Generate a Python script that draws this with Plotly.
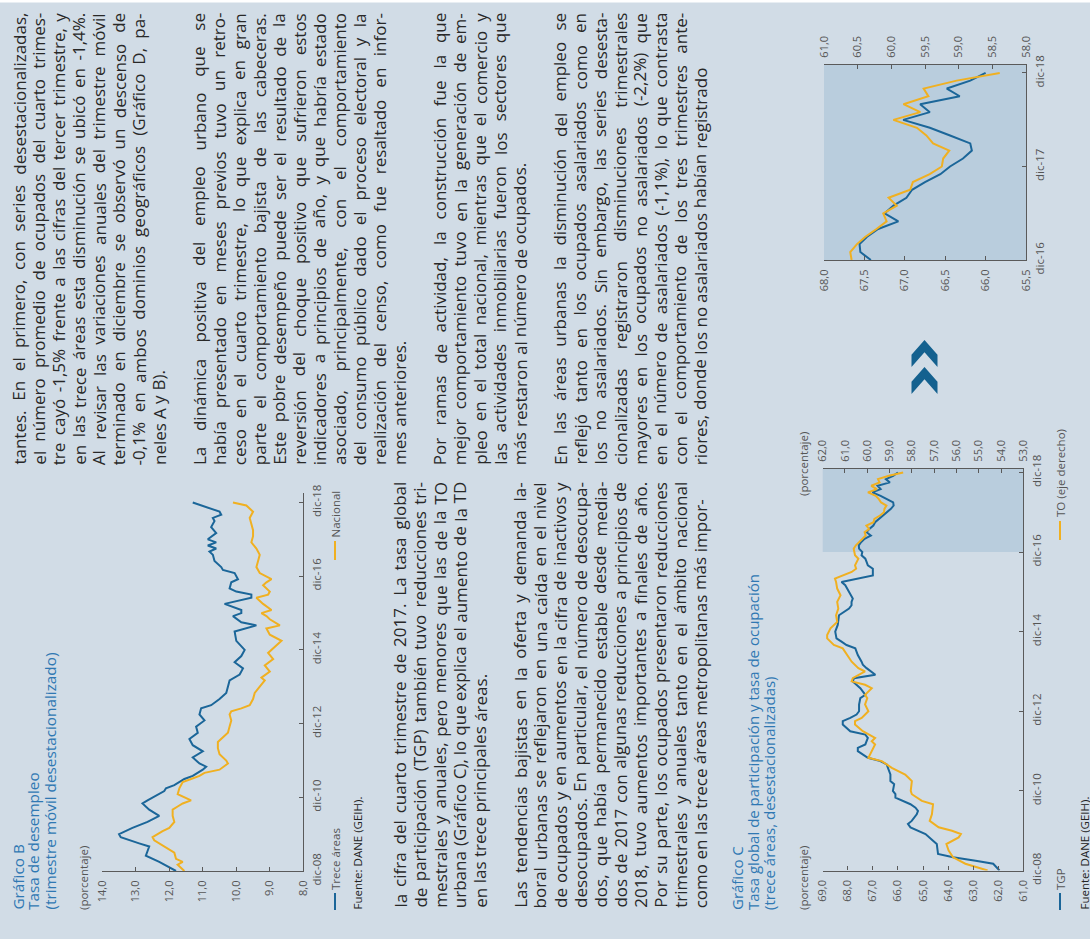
import unicodedata
import pandas as pd
import plotly.graph_objects as go

W, H = 1090, 939
BG = "#d1dce6"
SHADE = "#b9cddd"
AZUL = "#1b6699"
AMARILLO = "#f0b021"
TITULO = "#2f78b3"
TEXTO = "#282828"
GRIS = "#555555"
EJE = "#5a5a5a"
FUENTE = "Open Sans"

# ---------------- datos ----------------
# Gráfico B: meses contados desde dic-08
b_mes_trece = [0, 3, 5, 8, 9, 11, 12, 14, 16, 18, 20, 22, 23, 25, 26, 27, 28, 30, 31, 33,
               34, 35, 37, 39, 41, 43, 45, 47, 49, 51, 53, 54, 56, 58, 60, 62, 64, 66, 68, 70,
               72, 75, 78, 80, 81, 83, 84, 85, 87, 89, 90, 91, 92, 94, 95, 97, 98, 99, 101, 103,
               104, 105, 106, 107, 108, 110, 112, 114, 115, 116, 117, 118, 119, 120]
b_trece = [11.8, 12.3, 12.7, 12.6, 12.9, 13.45, 13.5, 13.1, 12.65, 12.3, 12.6, 12.8, 12.65, 12.3, 12.15, 12.1, 11.85, 11.55, 11.3, 11.0,
           10.9, 11.1, 11.3, 11.0, 11.3, 11.4, 11.15, 11.2, 10.95, 11.1, 11.05, 10.75, 10.5, 10.3, 10.25, 10.2, 9.9, 9.8, 10.05, 9.85,
           9.75, 10.0, 10.05, 9.4, 9.85, 10.1, 9.85, 9.85, 10.35, 9.55, 9.55, 10.0, 10.2, 10.15, 9.95, 10.05, 10.4, 10.45, 10.65, 10.7,
           10.8, 10.6, 10.85, 10.6, 10.85, 10.6, 10.75, 10.65, 10.7, 10.45, 10.5, 10.75, 11.0, 11.3]
b_mes_nac = [0, 2, 3, 4, 6, 8, 10, 11, 13, 14, 16, 18, 20, 21, 22, 23, 25, 27, 29, 30,
             31, 32, 33, 35, 36, 38, 40, 42, 43, 45, 47, 49, 51, 52, 53, 54, 56, 58, 60, 62,
             63, 65, 67, 69, 71, 73, 75, 77, 79, 80, 82, 83, 84, 85, 87, 89, 90, 91, 93, 94,
             95, 97, 99, 101, 103, 105, 107, 109, 111, 113, 115, 117, 119, 120]
b_nacional = [11.55, 11.75, 11.6, 11.8, 11.85, 12.15, 12.45, 12.5, 12.2, 12.0, 11.85, 11.9, 11.9, 11.75, 11.6, 11.35, 11.75, 11.7, 11.6, 11.35,
              11.1, 10.95, 10.5, 10.25, 10.3, 10.5, 10.55, 10.55, 10.45, 10.25, 10.2, 10.15, 10.2, 10.15, 9.85, 9.6, 9.5, 9.45, 9.3, 9.15,
              9.25, 9.0, 9.15, 8.9, 9.05, 8.85, 8.65, 9.0, 9.1, 8.7, 9.0, 9.1, 9.25, 8.95, 9.2, 9.4, 9.05, 9.0, 9.2, 9.1,
              8.95, 9.3, 9.4, 9.35, 9.3, 9.4, 9.55, 9.5, 9.5, 9.55, 9.6, 9.5, 9.7, 10.1]
b_ticks = ["dic-08", "dic-10", "dic-12", "dic-14", "dic-16", "dic-18"]

# Gráfico C: TGP y TO (trece áreas), meses desde dic-08 hasta nov-16
c_mes_tgp = [0, 2, 3, 4, 5, 8, 9, 11, 13, 14, 15, 17, 18, 19, 20, 21, 22, 23, 24, 26,
             27, 29, 31, 32, 33, 34, 36, 37, 38, 40, 41, 42, 44, 45, 46, 47, 48, 50, 52, 53,
             55, 57, 58, 59, 61, 62, 63, 65, 67, 68, 69, 70, 72, 74, 77, 79, 80, 81, 82, 84,
             85, 86, 87, 89, 91, 92, 93, 94, 95]
c_tgp = [61.95, 62.2, 62.9, 63.8, 64.4, 64.45, 64.6, 64.9, 65.5, 65.6, 65.45, 65.25, 65.2, 65.3, 65.5, 65.8, 66.1, 66.1, 66.2, 66.15,
         66.3, 66.3, 66.4, 66.45, 66.7, 67.2, 67.6, 67.6, 67.3, 67.2, 67.3, 67.9, 68.2, 68.2, 67.9, 67.65, 67.55, 67.55, 67.5, 67.3,
         67.5, 67.8, 67.75, 66.9, 67.25, 67.4, 67.45, 67.6, 67.7, 68.05, 68.25, 68.45, 68.5, 68.4, 68.35, 67.95, 67.85, 67.85, 67.8, 67.95,
         68.0, 68.1, 68.25, 67.0, 67.0, 67.2, 67.25, 67.3, 67.45]
c_mes_to = [0, 2, 4, 6, 8, 10, 11, 12, 13, 15, 17, 20, 21, 23, 24, 27, 28, 29, 31, 33,
            34, 36, 38, 39, 40, 42, 44, 45, 46, 48, 50, 52, 53, 55, 56, 57, 58, 60, 61, 63,
            65, 67, 68, 70, 71, 73, 75, 77, 79, 81, 83, 85, 87, 88, 90, 91, 92, 94, 95]
c_to = [54.6, 55.6, 56.15, 56.35, 56.45, 55.9, 55.8, 56.2, 56.8, 57.2, 57.1, 57.05, 57.55, 58.0, 58.05, 58.0, 58.15, 58.3, 58.9, 59.35,
        59.95, 59.8, 59.65, 59.8, 59.65, 60.2, 60.55, 60.55, 60.25, 59.95, 60.1, 60.0, 60.1, 59.8, 60.1, 60.7, 60.65, 60.1, 60.4, 60.7,
        60.9, 61.1, 61.5, 61.8, 61.8, 61.65, 61.35, 61.4, 61.3, 61.35, 61.2, 61.35, 61.4, 61.45, 60.7, 60.5, 60.55, 60.4, 60.55]
c_ticks = ["dic-08", "dic-10", "dic-12", "dic-14", "dic-16", "dic-18"]

# Gráfico D (detalle mensual dic-16 a dic-18)
d_tgp = [67.42, 67.55, 67.56, 67.47, 67.33, 67.08, 67.25, 67.14, 66.98, 66.91, 66.75, 66.56, 66.44,
         66.28, 66.17, 66.19, 66.44, 66.69, 67.02, 66.69, 66.81, 66.32, 66.48, 66.19, 66.0]
d_to = [60.59, 60.61, 60.51, 60.39, 60.22, 60.07, 60.12, 59.92, 60.04, 59.72, 59.68, 59.43, 59.25,
        59.23, 59.14, 59.38, 59.48, 59.62, 59.97, 59.57, 59.82, 59.45, 59.52, 59.03, 58.39]
d_ticks = ["dic-16", "dic-17", "dic-18"]

# ---------------- texto ----------------
col_der = [
    ["tantes. En el primero, con series desestacionalizadas,",
     "el número promedio de ocupados del cuarto trimes-",
     "tre cayó -1,5% frente a las cifras del tercer trimestre, y",
     "en las trece áreas esta disminución se ubicó en -1,4%.",
     "Al revisar las variaciones anuales del trimestre móvil",
     "terminado en diciembre se observó un descenso de",
     "-0,1% en ambos dominios geográficos (Gráfico D, pa-",
     "neles A y B)."],
    ["La dinámica positiva del empleo urbano que se",
     "había presentado en meses previos tuvo un retro-",
     "ceso en el cuarto trimestre, lo que explica en gran",
     "parte el comportamiento bajista de las cabeceras.",
     "Este pobre desempeño puede ser el resultado de la",
     "reversión del choque positivo que sufrieron estos",
     "indicadores a principios de año, y que habría estado",
     "asociado, principalmente, con el comportamiento",
     "del consumo público dado el proceso electoral y la",
     "realización del censo, como fue resaltado en infor-",
     "mes anteriores."],
    ["Por ramas de actividad, la construcción fue la que",
     "mejor comportamiento tuvo en la generación de em-",
     "pleo en el total nacional, mientras que el comercio y",
     "las actividades inmobiliarias fueron los sectores que",
     "más restaron al número de ocupados."],
    ["En las áreas urbanas la disminución del empleo se",
     "reflejó tanto en los ocupados asalariados como en",
     "los no asalariados. Sin embargo, las series desesta-",
     "cionalizadas registraron disminuciones trimestrales",
     "mayores en los ocupados no asalariados (-2,2%) que",
     "en el número de asalariados (-1,1%), lo que contrasta",
     "con el comportamiento de los tres trimestres ante-",
     "riores, donde los no asalariados habían registrado"],
]
col_izq = [
    ["la cifra del cuarto trimestre de 2017. La tasa global",
     "de participación (TGP) también tuvo reducciones tri-",
     "mestrales y anuales, pero menores que las de la TO",
     "urbana (Gráfico C), lo que explica el aumento de la TD",
     "en las trece principales áreas."],
    ["Las tendencias bajistas en la oferta y demanda la-",
     "boral urbanas se reflejaron en una caída en el nivel",
     "de ocupados y en aumentos en la cifra de inactivos y",
     "desocupados. En particular, el número de desocupa-",
     "dos, que había permanecido estable desde media-",
     "dos de 2017 con algunas reducciones a principios de",
     "2018, tuvo aumentos importantes a finales de año.",
     "Por su parte, los ocupados presentaron reducciones",
     "trimestrales y anuales tanto en el ámbito nacional",
     "como en las trece áreas metropolitanas más impor-"],
]

# anchos aproximados de Open Sans (unidades de 2048)
ANCHO = {" ": 532, "a": 1139, "b": 1255, "c": 975, "d": 1255, "e": 1149, "f": 694, "g": 1122,
         "h": 1257, "i": 518, "j": 518, "k": 1075, "l": 518, "m": 1905, "n": 1257, "o": 1237,
         "p": 1255, "q": 1255, "r": 836, "s": 977, "t": 723, "u": 1257, "v": 1026, "w": 1593,
         "x": 1073, "y": 1028, "z": 977, "A": 1296, "B": 1327, "C": 1292, "D": 1493, "E": 1139,
         "F": 1057, "G": 1491, "H": 1511, "I": 571, "L": 1063, "M": 1849, "N": 1544, "O": 1595,
         "P": 1233, "R": 1266, "S": 1124, "T": 1126, "V": 1225, ",": 502, ".": 545, "-": 659,
         "(": 606, ")": 606, "%": 1706, ":": 545}
for d in "0123456789":
    ANCHO[d] = 1171


def ancho_texto(s, size):
    total = 0
    for ch in s:
        base = unicodedata.normalize("NFD", ch)[0]
        total += ANCHO.get(base, 1150)
    return total / 2048 * size


def fechas(meses, inicio="2008-12-01"):
    t0 = pd.Timestamp(inicio)
    return [t0 + pd.DateOffset(months=m) for m in meses]


anotaciones = []
formas = []


def vertical(x, y, texto, size, color, yanchor="bottom"):
    anotaciones.append(dict(x=x / W, y=1 - y / H, xref="paper", yref="paper", text=texto,
                            textangle=-90, showarrow=False, xanchor="center", yanchor=yanchor,
                            font=dict(family=FUENTE, size=size, color=color),
                            borderpad=0, borderwidth=0))


X0, PASO = 18.6, 20.05
CUERPO = 17


def columna(parrafos, k0, y0, y1, size=CUERPO):
    k = k0
    espacio = ancho_texto(" ", size)
    for lineas in parrafos:
        for i, linea in enumerate(lineas):
            x = X0 + PASO * k
            palabras = linea.split(" ")
            anchos = [ancho_texto(p, size) for p in palabras]
            ultima = i == len(lineas) - 1
            if not ultima and len(palabras) > 1:
                hueco = max((y0 - y1 - sum(anchos)) / (len(palabras) - 1), 0.6 * espacio)
            else:
                hueco = espacio
            y = y0
            for p, a in zip(palabras, anchos):
                vertical(x, y, p, size, TEXTO)
                y -= a + hueco
            k += 1
        k += 1


columna(col_der, 0, 465, 13)
columna(col_izq, 19, 908, 482)

# títulos, fuentes y leyendas
vertical(17, 910, "Gráfico B", 15.3, TITULO)
vertical(33, 910, "Tasa de desempleo", 15.3, TITULO)
vertical(49, 910, "(trimestre móvil desestacionalizado)", 15.3, TITULO)
vertical(83, 910, "(porcentaje)", 11.5, GRIS)
vertical(335, 890, "Trece áreas", 11.5, GRIS)
vertical(335, 538, "Nacional", 11.5, GRIS)
vertical(357, 910, "Fuente: DANE (GEIH).", 11.5, "#222222")

vertical(737, 910, "Gráfico C", 15, TITULO)
vertical(753, 910, "Tasa global de participación y tasa de ocupación", 15, TITULO)
vertical(769, 910, "(trece áreas, desestacionalizadas)", 15, TITULO)
vertical(803, 910, "(porcentaje)", 11.5, GRIS)
vertical(803, 432, "(porcentaje)", 11.5, GRIS, yanchor="top")
vertical(1060, 890, "TGP", 11.5, GRIS)
vertical(1060, 517, "TO (eje derecho)", 11.5, GRIS)
vertical(1084, 910, "Fuente: DANE (GEIH).", 11.5, "#222222")


def linea_px(x0, y0, x1, y1, color, width=2):
    formas.append(dict(type="line", xref="paper", yref="paper", x0=x0 / W, y0=1 - y0 / H,
                       x1=x1 / W, y1=1 - y1 / H, line=dict(color=color, width=width)))


linea_px(335, 910, 335, 893, AZUL)
linea_px(335, 560, 335, 541, AMARILLO)
linea_px(1060, 910, 1060, 893, AZUL)
linea_px(1060, 540, 1060, 521, AMARILLO)

# franja blanca superior
formas.append(dict(type="rect", xref="paper", yref="paper", x0=0, x1=1, y0=1 - 2.5 / H, y1=1,
                   fillcolor="white", line=dict(width=0)))


def chevron(cx, top, w, h):
    pts = [(cx, top), (cx + w / 2, top + h * 0.55), (cx + w / 2, top + h),
           (cx, top + h * 0.45), (cx - w / 2, top + h), (cx - w / 2, top + h * 0.55)]
    return "M " + " L ".join(f"{x / W:.5f},{1 - y / H:.5f}" for x, y in pts) + " Z"


for top in (340, 367):
    formas.append(dict(type="path", xref="paper", yref="paper", path=chevron(924.5, top, 26, 27),
                       fillcolor="#14618f", line=dict(width=0)))

# ---------------- figura ----------------
fig = go.Figure()

fig.add_trace(go.Scatter(x=b_trece, y=fechas(b_mes_trece), mode="lines",
                         line=dict(color=AZUL, width=2), xaxis="x", yaxis="y"))
fig.add_trace(go.Scatter(x=b_nacional, y=fechas(b_mes_nac), mode="lines",
                         line=dict(color=AMARILLO, width=2), xaxis="x", yaxis="y"))

mes_d = list(range(96, 121))
fig.add_trace(go.Scatter(x=c_tgp + d_tgp, y=fechas(c_mes_tgp + mes_d), mode="lines",
                         line=dict(color=AZUL, width=2), xaxis="x2", yaxis="y2"))
fig.add_trace(go.Scatter(x=c_to + d_to, y=fechas(c_mes_to + mes_d), mode="lines",
                         line=dict(color=AMARILLO, width=2), xaxis="x3", yaxis="y2"))

fig.add_trace(go.Scatter(x=d_tgp, y=fechas(range(len(d_tgp)), "2016-12-01"), mode="lines",
                         line=dict(color=AZUL, width=2), xaxis="x4", yaxis="y3"))
fig.add_trace(go.Scatter(x=d_to, y=fechas(range(len(d_to)), "2016-12-01"), mode="lines",
                         line=dict(color=AMARILLO, width=2), xaxis="x5", yaxis="y3"))

formas.append(dict(type="rect", xref="x2 domain", yref="y2", x0=0, x1=1,
                   y0="2016-12-01", y1="2019-01-02", fillcolor=SHADE, line=dict(width=0), layer="below"))
formas.append(dict(type="rect", xref="x4 domain", yref="y3 domain", x0=0, x1=1, y0=0, y1=1,
                   fillcolor=SHADE, line=dict(width=0), layer="below"))


def eje_valor(x0, x1, rango, dtick, side, anchor, overlaying=None):
    d = dict(domain=[x0 / W, x1 / W], range=rango, dtick=dtick, tick0=0, tickformat=".1f",
             side=side, anchor=anchor, showline=True, linecolor=EJE, linewidth=1.3,
             ticks="inside", ticklen=4, tickcolor=EJE, tickangle=-90, ticklabelstandoff=4,
             tickfont=dict(family=FUENTE, size=11, color=GRIS), showgrid=False, zeroline=False,
             automargin=False)
    if overlaying:
        d["overlaying"] = overlaying
    return d


def eje_tiempo(y0, y1, rango, inicio, etiquetas, paso, anchor):
    t0 = pd.Timestamp(inicio)
    vals = [t0 + pd.DateOffset(months=paso * i) for i in range(len(etiquetas))]
    return dict(domain=[1 - y0 / H, 1 - y1 / H], type="date", range=rango, side="right",
                anchor=anchor, tickvals=vals, ticktext=etiquetas, tickangle=-90,
                showline=True, linecolor=EJE, linewidth=1.3, ticks="inside", ticklen=4,
                tickcolor=EJE, ticklabelstandoff=3, automargin=False,
                tickfont=dict(family=FUENTE, size=11.5, color=GRIS), showgrid=False, zeroline=False)


fig.update_layout(
    width=W, height=H, margin=dict(l=0, r=0, t=0, b=0, pad=0, autoexpand=False),
    paper_bgcolor=BG, plot_bgcolor="rgba(0,0,0,0)", showlegend=False, separators=",.",
    hovermode=False,
    xaxis=eje_valor(102.3, 303.3, [14, 8], 1, "bottom", "y"),
    yaxis=eje_tiempo(871, 493, ["2008-12-01", "2019-03-05"], "2008-12-01", b_ticks, 24, "x"),
    xaxis2=eje_valor(822.7, 1023.3, [69, 61], 1, "bottom", "y2"),
    xaxis3=eje_valor(822.7, 1023.3, [62, 53], 1, "top", "y2", overlaying="x2"),
    yaxis2=eje_tiempo(870.5, 469, ["2008-12-01", "2019-01-02"], "2008-12-01", c_ticks, 24, "x2"),
    xaxis4=eje_valor(824, 1026, [68, 65.5], 0.5, "bottom", "y3"),
    xaxis5=eje_valor(824, 1026, [61, 58], 0.5, "top", "y3", overlaying="x4"),
    yaxis3=eje_tiempo(260, 65, ["2016-12-01", "2019-01-01"], "2016-12-01", d_ticks, 12, "x4"),
    annotations=anotaciones,
    shapes=formas,
)

# sin margen del navegador alrededor de la figura y sin barra de herramientas
fig.write_html("out.html", config={"displayModeBar": False},
               post_script="document.body.style.margin='0px';")
